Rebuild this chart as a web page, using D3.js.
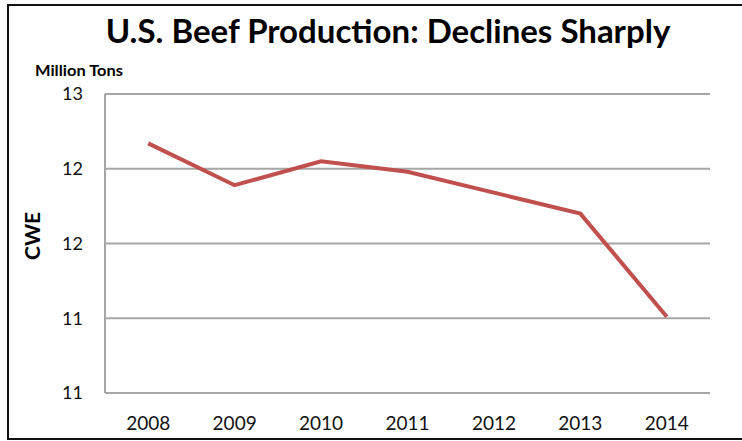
<!DOCTYPE html>
<html><head><meta charset="utf-8">
<script src="https://cdn.jsdelivr.net/npm/d3@7"></script>
<style>body{margin:0;background:#fff}svg{display:block}</style>
</head><body>
<svg id="c" width="742" height="441"></svg>
<script>
const years = ["2008","2009","2010","2011","2012","2013","2014"];
const production = [12.67, 12.39, 12.55, 12.48, 12.34, 12.20, 11.51];
const tickValues = [11, 11.5, 12, 12.5, 13];
const tickLabels = ["11","11","12","12","13"];

const svg = d3.select("#c");
const font = "Lato, 'Open Sans', sans-serif";
const m = {left:105, right:710, top:94, bottom:393};

svg.append("rect").attr("x",8).attr("y",5).attr("width",740).attr("height",434)
  .attr("fill","#fff").attr("stroke","#111").attr("stroke-width",2);

const x = d3.scaleBand().domain(years).range([m.left, m.right]);
const y = d3.scaleLinear().domain([11,13]).range([m.bottom, m.top]);

// gridlines
svg.append("g").selectAll("line").data(tickValues).join("line")
  .attr("x1",m.left).attr("x2",m.right)
  .attr("y1",d=>y(d)).attr("y2",d=>y(d))
  .attr("stroke","#a6a6a6").attr("stroke-width",2);
svg.append("line").attr("x1",m.left).attr("x2",m.left).attr("y1",m.top).attr("y2",m.bottom)
  .attr("stroke","#a6a6a6").attr("stroke-width",2);

// y labels
const yAxis = d3.axisLeft(y).tickValues(tickValues).tickFormat((d,i)=>tickLabels[i]).tickSize(0).tickPadding(22);
const gy = svg.append("g").attr("transform",`translate(${m.left},0)`).call(yAxis);
gy.select(".domain").remove();
gy.selectAll("text").attr("font-family",font).attr("font-size",18).attr("fill","#111");

// x labels
const xAxis = d3.axisBottom(x).tickSize(0);
const gx = svg.append("g").attr("transform",`translate(0,${m.bottom})`).call(xAxis);
gx.select(".domain").remove();
gx.selectAll("text").attr("y",37).attr("dy",0).attr("font-family",font).attr("font-size",19).attr("fill","#111");

// line
const line = d3.line().x((d,i)=>x(years[i])+x.bandwidth()/2).y(d=>y(d));
svg.append("path").datum(production).attr("d",line)
  .attr("fill","none").attr("stroke","#c0504d").attr("stroke-width",4).attr("stroke-linejoin","miter");

// titles
svg.append("text").attr("x",388).attr("y",43).attr("text-anchor","middle")
  .attr("font-family",font).attr("font-weight","bold").attr("font-size",33).attr("fill","#000")
  .text("U.S. Beef Production: Declines Sharply");
svg.append("text").attr("x",35).attr("y",76)
  .attr("font-family",font).attr("font-weight","bold").attr("font-size",15).attr("fill","#000")
  .attr("textLength",88).attr("lengthAdjust","spacingAndGlyphs")
  .text("Million Tons");
svg.append("text").attr("transform","translate(40,236) rotate(-90)").attr("text-anchor","middle")
  .attr("font-family",font).attr("font-weight","bold").attr("font-size",21).attr("fill","#000")
  .text("CWE");
</script>
</body></html>
